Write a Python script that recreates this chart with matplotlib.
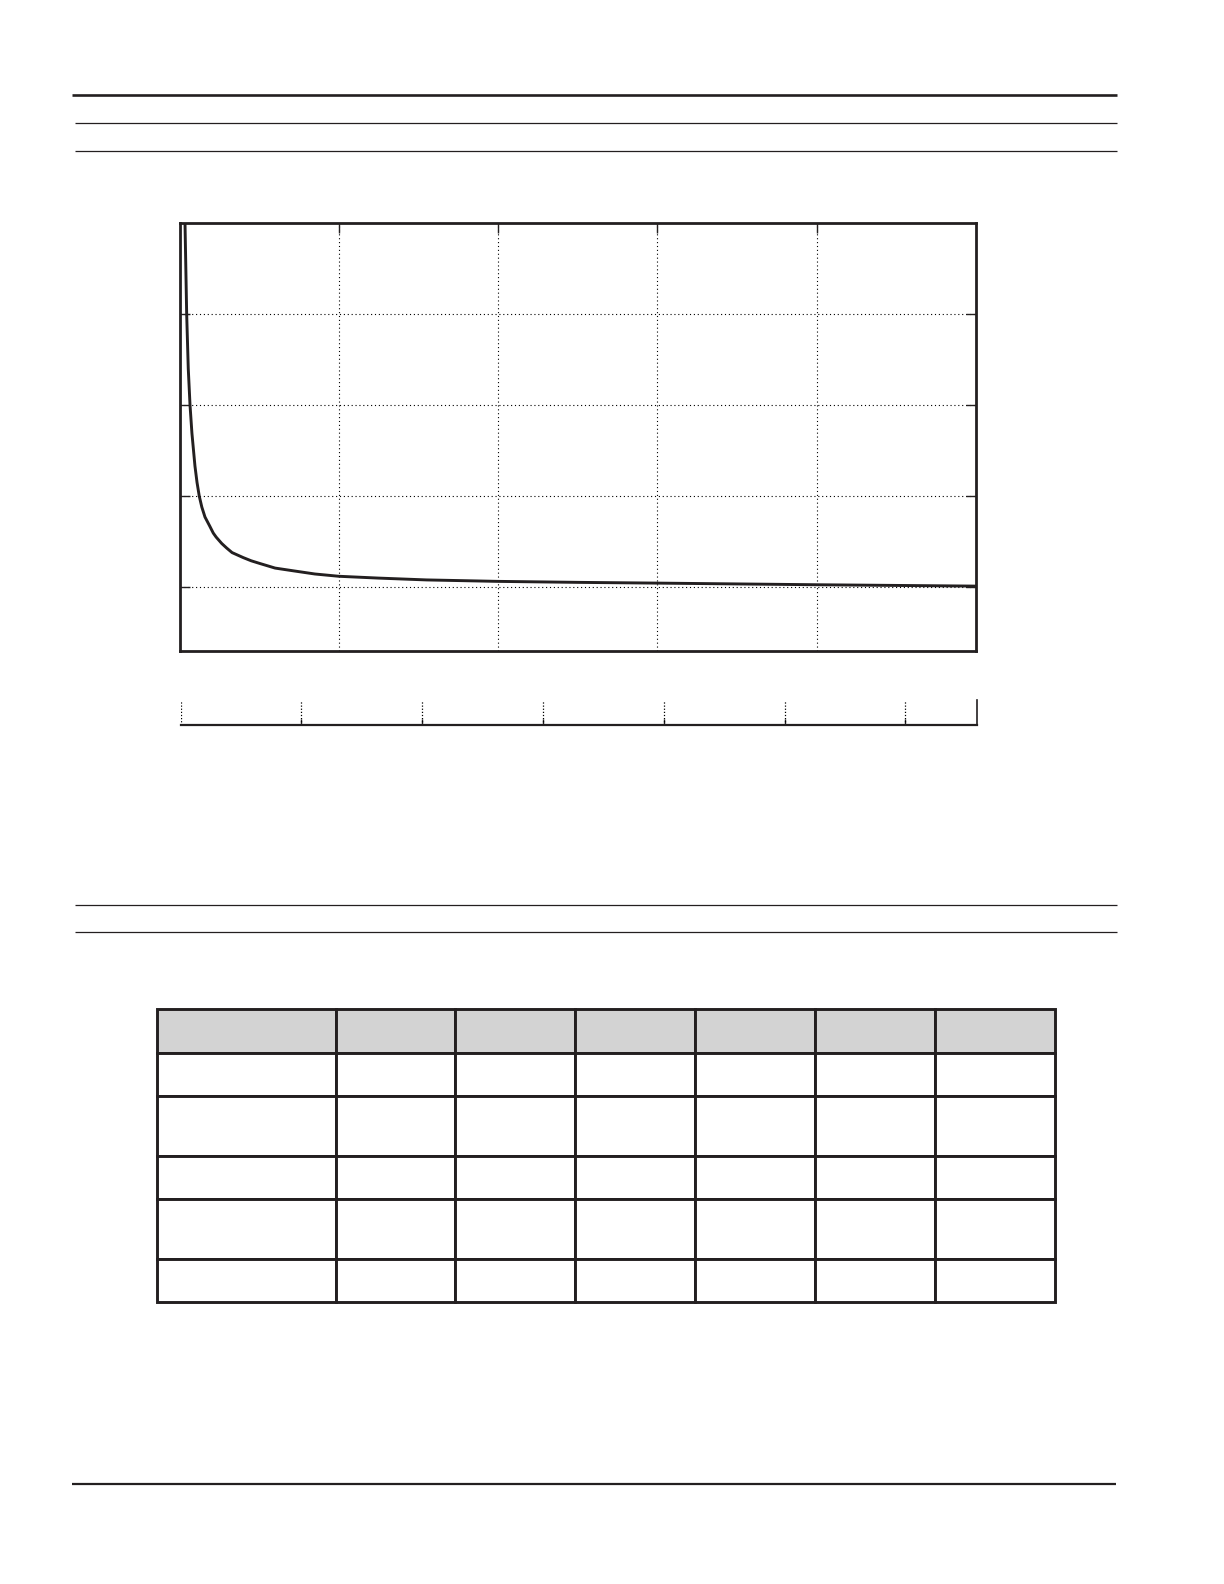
import matplotlib
matplotlib.use("Agg")
import matplotlib.pyplot as plt
import numpy as np

W, H = 1224, 1584
INK = "#231f20"

# curve (x in grid divisions, y in grid divisions above the lowest grid line)
curve_x = [0.031, 0.0345, 0.045, 0.055, 0.066, 0.078, 0.097, 0.11, 0.124, 0.14,
           0.16, 0.175, 0.19, 0.212, 0.23, 0.265, 0.296, 0.33, 0.40, 0.45,
           0.505, 0.6, 0.714, 0.85, 1.0, 1.25, 1.55, 2.0, 2.51, 3.0, 4.0, 5.0]
curve_y = [4.4, 4.0, 3.0, 2.4, 2.0, 1.69, 1.33, 1.15, 1.0, 0.88,
           0.77, 0.72, 0.67, 0.594, 0.55, 0.48, 0.43, 0.38, 0.325, 0.29,
           0.26, 0.21, 0.18, 0.145, 0.12, 0.10, 0.08, 0.064, 0.053, 0.045, 0.027, 0.012]

x_grid = [1, 2, 3, 4]
y_grid = [0, 1, 2, 3]
x_lim = (0, 5)
y_lim = (-0.70, 4)

# secondary scale under the chart
sec_ticks = [0, 1, 2, 3, 4, 5, 6]
sec_max = 6.59

# table (text is blank in the source)
n_cols = 7
header = [""] * n_cols
rows = [[""] * n_cols for _ in range(5)]


def frac(x0, y0, x1, y1):
    # pixel box (top-left origin) -> figure fraction rect
    return [x0 / W, 1 - y1 / H, (x1 - x0) / W, (y1 - y0) / H]


fig = plt.figure(figsize=(W / 100, H / 100), dpi=100)

# page rules
bg = fig.add_axes([0, 0, 1, 1], zorder=0)
bg.set_xlim(0, W)
bg.set_ylim(H, 0)
bg.axis("off")
bg.plot([72, 1117], [94.7, 94.7], color=INK, lw=1.9, solid_capstyle="butt")
for yy in [123.3, 151, 904.7, 932.3]:
    bg.plot([75, 1117], [yy, yy], color=INK, lw=0.9, solid_capstyle="butt")
bg.plot([72, 1115.7], [1483.7, 1483.7], color=INK, lw=1.6, solid_capstyle="butt")

# main chart
ax = fig.add_axes(frac(179.5, 222.7, 976, 651), zorder=2)
ax.plot(curve_x, curve_y, color=INK, lw=2.1, solid_joinstyle="round",
        solid_capstyle="round")
ax.set_xlim(*x_lim)
ax.set_ylim(*y_lim)
ax.set_xticks(x_grid)
ax.set_yticks(y_grid)
ax.grid(True, color="black", lw=0.8, linestyle=(0, (1, 2.5)))
ax.tick_params(direction="in", length=7, width=1.0, color=INK,
               top=True, right=True, bottom=False,
               labelbottom=False, labelleft=False)
for s in ax.spines.values():
    s.set_linewidth(2.0)
    s.set_color(INK)

# secondary scale
ax2 = fig.add_axes(frac(180.7, 700, 976.7, 725), zorder=2)
ax2.set_xlim(0, sec_max)
ax2.set_ylim(0, 1)
ax2.vlines(sec_ticks, 0, 1, color="black", lw=0.9, linestyle=(0, (1, 1.5)))
ax2.set_xticks(sec_ticks[1:])
ax2.set_yticks([])
ax2.tick_params(axis="x", direction="in", length=4.5, width=1.0, color=INK,
                labelbottom=False)
for name in ["top", "left"]:
    ax2.spines[name].set_visible(False)
ax2.spines["bottom"].set_linewidth(1.6)
ax2.spines["right"].set_linewidth(1.2)
for s in ax2.spines.values():
    s.set_color(INK)
ax2.patch.set_alpha(0)

# table
tab_ax = fig.add_axes(frac(156.7, 1009, 1055, 1302), zorder=2)
tab_ax.axis("off")
col_w = [179, 119.6, 119.7, 120, 119.7, 120, 120.3]
row_h = [43.7, 43.3, 59.7, 43.3, 59.7, 43.3]
tbl = tab_ax.table(cellText=[header] + rows, colWidths=col_w, bbox=[0, 0, 1, 1])
for (r, c), cell in tbl.get_celld().items():
    cell.set_height(row_h[r])
    cell.set_linewidth(2.1)
    cell.set_edgecolor(INK)
    cell.set_facecolor("#d3d3d3" if r == 0 else "white")

fig.savefig("out.png", dpi=100)
